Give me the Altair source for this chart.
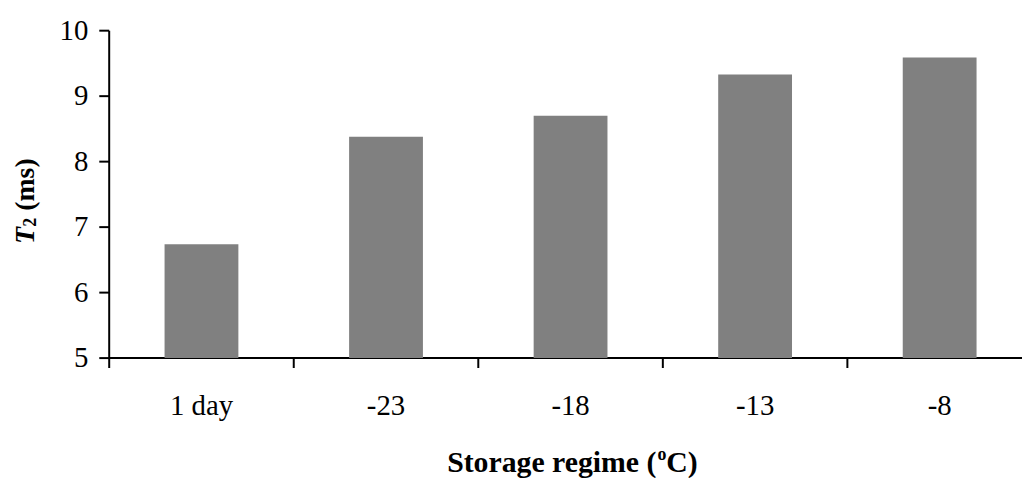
import altair as alt
import pandas as pd

# ---- data ----
categories = ["1 day", "-23", "-18", "-13", "-8"]
t2_values = [6.74, 8.38, 8.70, 9.33, 9.59]
y_ticks = [5, 6, 7, 8, 9, 10]
y_base = 5

df = pd.DataFrame({"regime": categories, "t2": t2_values})
one = pd.DataFrame({"k": [0]})

FONT = "Liberation Serif"

bars = alt.Chart(df).mark_bar(
    color="#808080", width=alt.RelativeBandSize(0.4)
).encode(
    x=alt.X(
        "regime:N",
        sort=categories,
        scale=alt.Scale(paddingInner=0, paddingOuter=0, range=[0, 930]),
        axis=alt.Axis(
            title=None, labelAngle=0, tickBand="extent", tickSize=10,
            labelFont=FONT, labelFontSize=29, labelColor="black",
            labelBaseline="alphabetic", labelPadding=47,
            domainColor="black", tickColor="black",
            domainWidth=2, tickWidth=2, grid=False, translate=0,
        ),
    ),
    y=alt.Y(
        "t2:Q",
        scale=alt.Scale(domain=[5, 10], nice=False, zero=False),
        axis=alt.Axis(
            title=None, values=y_ticks, tickSize=10,
            labelFont=FONT, labelFontSize=29, labelColor="black",
            labelPadding=11, domainColor="black", tickColor="black",
            domainWidth=2, tickWidth=2, grid=False, translate=0,
        ),
    ),
    y2=alt.datum(y_base),
)

# ---- y-axis title: italic bold T, subscript 2, bold "(ms)" ----
def ytxt(text, x, y, size, style="normal"):
    return alt.Chart(one).mark_text(
        text=text, angle=270, align="left", baseline="alphabetic",
        font=FONT, fontSize=size, fontWeight="bold", fontStyle=style,
        color="black",
    ).encode(x=alt.value(x), y=alt.value(y))

yt1 = ytxt("T", -76, 215, 28, "italic")
yt2 = ytxt("2", -74, 197.5, 18)
yt3 = ytxt("(ms)", -76, 181.5, 28)

# ---- x-axis title: "Storage regime (" + superscript o + "C)" ----
def xtxt(text, x, y, size):
    return alt.Chart(one).mark_text(
        text=text, align="left", baseline="alphabetic",
        font=FONT, fontSize=size, fontWeight="bold", color="black",
    ).encode(x=alt.value(x), y=alt.value(y))

xt1 = xtxt("Storage regime (", 340.6, 445, 30)
xt2 = xtxt("o", 552.5, 433, 18)
xt3 = xtxt("C)", 561.5, 445, 30)

chart = alt.layer(bars, yt1, yt2, yt3, xt1, xt2, xt3).properties(
    width=920,
    height=330,
    autosize=alt.AutoSizeParams(type="none"),
    padding={"left": 102, "top": 21, "right": 0, "bottom": 119},
).configure_view(stroke=None)

chart.save("out.html", embed_options={"renderer": "svg", "actions": False})
